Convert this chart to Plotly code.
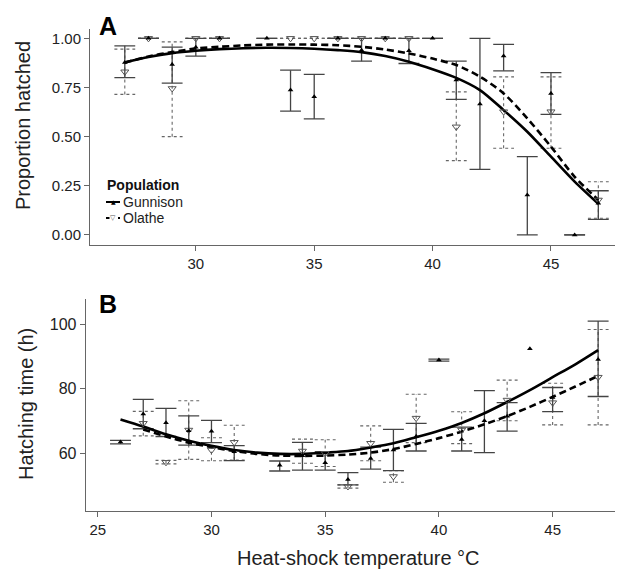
import plotly.graph_objects as go

# ---------------- Panel A: proportion hatched ----------------
a_g_x = [27, 28, 29, 30, 31, 33, 34, 35, 36, 37, 38, 39, 40, 41, 42, 43, 44, 45, 46, 47]
a_g_y = [0.877, 1.0, 0.867, 0.955, 1.0, 1.0, 0.737, 0.703, 1.0, 0.94, 1.0, 0.937, 1.0, 0.788, 0.666, 0.91, 0.203, 0.72, 0.0, 0.161]
a_g_lo = [0.80, 1.0, 0.772, 0.91, 1.0, 1.0, 0.63, 0.59, 1.0, 0.884, 1.0, 0.872, 1.0, 0.69, 0.334, 0.835, 0.0, 0.613, 0.0, 0.079]
a_g_hi = [0.962, 1.0, 0.955, 1.0, 1.0, 1.0, 0.838, 0.817, 1.0, 1.0, 1.0, 1.0, 1.0, 0.884, 1.0, 0.969, 0.398, 0.826, 0.0, 0.225]

a_o_x = [27, 28, 29, 30, 31, 34, 35, 36, 37, 38, 39, 41, 43, 45, 47]
a_o_y = [0.83, 1.0, 0.745, 1.0, 1.0, 1.0, 1.0, 1.0, 1.0, 1.0, 1.0, 0.55, 0.627, 0.627, 0.178]
a_o_lo = [0.715, 1.0, 0.50, 1.0, 1.0, 1.0, 1.0, 1.0, 1.0, 1.0, 1.0, 0.378, 0.441, 0.441, 0.085]
a_o_hi = [0.945, 1.0, 0.982, 1.0, 1.0, 1.0, 1.0, 1.0, 1.0, 1.0, 1.0, 0.728, 0.804, 0.804, 0.271]

a_fit_x = [27, 28, 29, 30, 31, 32, 33, 34, 35, 36, 37, 38, 39, 40, 41, 42, 43, 44, 45, 46, 47]
a_fit_g = [0.877, 0.905, 0.925, 0.937, 0.945, 0.95, 0.952, 0.951, 0.947, 0.94, 0.93, 0.91, 0.881, 0.843, 0.799, 0.737, 0.635, 0.525, 0.398, 0.271, 0.158]
a_fit_o = [0.877, 0.908, 0.93, 0.948, 0.957, 0.964, 0.968, 0.969, 0.968, 0.965, 0.957, 0.943, 0.923, 0.897, 0.864, 0.805, 0.72, 0.593, 0.449, 0.296, 0.178]

# ---------------- Panel B: hatching time ----------------
b_g_x = [26, 27, 28, 29, 30, 31, 33, 34, 35, 36, 37, 38, 39, 40, 41, 42, 43, 44, 45, 47]
b_g_y = [63.5, 72.2, 69.5, 67.0, 66.8, 60.5, 56.3, 59.2, 57.1, 51.9, 58.4, 61.0, 65.2, 88.9, 64.3, 70.1, 71.5, 92.4, 77.3, 89.1]
b_g_lo = [62.9, 67.6, 65.2, 62.5, 63.3, 57.7, 54.5, 54.8, 54.8, 50.2, 55.1, 54.6, 60.7, 88.6, 60.7, 60.2, 66.9, None, 72.9, 77.6]
b_g_hi = [64.0, 76.7, 73.9, 71.6, 70.2, 62.4, 57.6, 63.4, 60.5, 54.0, 61.9, 67.4, 69.3, 89.2, 68.1, 79.4, 75.7, None, 80.4, 101.0]

b_o_x = [27, 28, 29, 30, 31, 34, 35, 36, 37, 38, 39, 41, 43, 45, 47]
b_o_y = [69.3, 57.2, 67.2, 61.0, 63.4, 60.7, 60.0, 49.7, 63.1, 52.8, 70.9, 67.2, 76.5, 75.7, 83.6]
b_o_lo = [65.4, 56.7, 58.1, 57.7, 57.9, 56.9, 55.9, 49.2, 57.7, 51.0, 63.3, 63.0, 70.1, 68.8, 68.8]
b_o_hi = [73.0, 57.8, 76.3, 64.8, 68.7, 64.4, 64.2, 50.2, 68.5, 54.6, 78.3, 72.9, 82.7, 81.7, 98.4]

b_fit_g_x = [26, 27, 28, 29, 30, 31, 32, 33, 34, 35, 36, 37, 38, 39, 40, 41, 42, 43, 44, 45, 46, 47]
b_fit_g = [70.5, 68.3, 65.9, 63.9, 62.3, 61.0, 60.2, 59.8, 59.8, 60.2, 60.7, 61.8, 63.1, 65.0, 67.0, 69.4, 72.4, 75.9, 79.6, 83.6, 87.6, 92.0]
b_fit_o_x = [27, 28, 29, 30, 31, 32, 33, 34, 35, 36, 37, 38, 39, 40, 41, 42, 43, 44, 45, 46, 47]
b_fit_o = [67.4, 65.2, 63.3, 61.9, 60.7, 59.8, 59.3, 59.2, 59.3, 59.6, 60.2, 61.3, 62.9, 64.7, 66.7, 69.0, 71.5, 74.4, 77.5, 80.7, 84.0]

FONT = "Liberation Sans, Arial, sans-serif"
W, H = 623, 569
OFF = 8  # page body margin in the viewer


def fx(px):
    return (px - OFF) / W


def fy(py):
    return 1 - (py - OFF) / H


def err_segments(xs, lo, hi, half):
    ex, ey = [], []
    for x, l, h in zip(xs, lo, hi):
        if l is None or h is None:
            continue
        ex += [x, x, None, x - half, x + half, None, x - half, x + half, None]
        ey += [l, h, None, l, l, None, h, h, None]
    return ex, ey


fig = go.Figure()

panels = [
    ("x", "y", a_g_x, a_g_y, a_g_lo, a_g_hi, a_o_x, a_o_y, a_o_lo, a_o_hi,
     a_fit_x, a_fit_g, a_fit_x, a_fit_o, 0.44),
    ("x2", "y2", b_g_x, b_g_y, b_g_lo, b_g_hi, b_o_x, b_o_y, b_o_lo, b_o_hi,
     b_fit_g_x, b_fit_g, b_fit_o_x, b_fit_o, 0.46),
]

for (xa, ya, gx, gy, glo, ghi, ox, oy, olo, ohi, fgx, fgy, fox, foy, half) in panels:
    ex, ey = err_segments(ox, olo, ohi, half)
    fig.add_trace(go.Scatter(x=ex, y=ey, mode="lines", xaxis=xa, yaxis=ya,
                             line=dict(color="#666666", width=1.1, dash="dot"),
                             showlegend=False, hoverinfo="skip"))
    ex, ey = err_segments(gx, glo, ghi, half)
    fig.add_trace(go.Scatter(x=ex, y=ey, mode="lines", xaxis=xa, yaxis=ya,
                             line=dict(color="#444444", width=1.3),
                             showlegend=False, hoverinfo="skip"))
    fig.add_trace(go.Scatter(x=fgx, y=fgy, mode="lines", xaxis=xa, yaxis=ya,
                             line=dict(color="black", width=2.6, shape="spline", smoothing=0.8),
                             showlegend=False))
    fig.add_trace(go.Scatter(x=fox, y=foy, mode="lines", xaxis=xa, yaxis=ya,
                             line=dict(color="black", width=2.6, dash="7px,4px",
                                       shape="spline", smoothing=0.8),
                             showlegend=False))
    fig.add_trace(go.Scatter(x=ox, y=oy, mode="markers", xaxis=xa, yaxis=ya,
                             marker=dict(symbol="triangle-down-open", size=7,
                                         color="#555555", line=dict(width=1)),
                             showlegend=False))
    fig.add_trace(go.Scatter(x=gx, y=gy, mode="markers", xaxis=xa, yaxis=ya,
                             marker=dict(symbol="triangle-up", size=5, color="black"),
                             showlegend=False))

axis_common = dict(showgrid=False, zeroline=False, showline=True, linecolor="#666666",
                   linewidth=1, ticks="outside", ticklen=5, tickcolor="#666666",
                   automargin=False)

# hand-built legend (keys + labels)
legend_shapes = [
    dict(type="line", xref="paper", yref="paper", x0=fx(106), x1=fx(120), y0=fy(202), y1=fy(202),
         line=dict(color="black", width=2)),
    dict(type="line", xref="paper", yref="paper", x0=fx(106), x1=fx(120), y0=fy(218), y1=fy(218),
         line=dict(color="black", width=2, dash="4px,2px")),
]

ann = [
    dict(text="<b>A</b>", x=fx(108), y=fy(26), xref="paper", yref="paper",
         xanchor="center", yanchor="middle", showarrow=False,
         font=dict(family=FONT, size=25, color="black")),
    dict(text="<b>B</b>", x=fx(108), y=fy(303.5), xref="paper", yref="paper",
         xanchor="center", yanchor="middle", showarrow=False,
         font=dict(family=FONT, size=25, color="black")),
    dict(text="Proportion hatched", x=fx(23), y=fy(126), xref="paper", yref="paper",
         xanchor="center", yanchor="middle", textangle=-90, showarrow=False,
         font=dict(family=FONT, size=20, color="#222222")),
    dict(text="Hatching time (h)", x=fx(26), y=fy(404), xref="paper", yref="paper",
         xanchor="center", yanchor="middle", textangle=-90, showarrow=False,
         font=dict(family=FONT, size=20, color="#222222")),
    dict(text="Heat-shock temperature \u00b0C", x=fx(358), y=fy(558), xref="paper", yref="paper",
         xanchor="center", yanchor="middle", showarrow=False,
         font=dict(family=FONT, size=20, color="#222222")),
    dict(text="<b>Population</b>", x=fx(105), y=fy(185), xref="paper", yref="paper",
         xanchor="left", yanchor="middle", showarrow=False,
         font=dict(family=FONT, size=14, color="#111111")),
    dict(text="Gunnison", x=fx(121), y=fy(202), xref="paper", yref="paper",
         xanchor="left", yanchor="middle", showarrow=False,
         font=dict(family=FONT, size=14, color="#222222")),
    dict(text="Olathe", x=fx(121), y=fy(218), xref="paper", yref="paper",
         xanchor="left", yanchor="middle", showarrow=False,
         font=dict(family=FONT, size=14, color="#222222")),
    dict(text="\u25b2", x=fx(113), y=fy(201), xref="paper", yref="paper",
         xanchor="center", yanchor="middle", showarrow=False,
         font=dict(family="DejaVu Sans", size=6, color="black")),
    dict(text="\u25bd", x=fx(113), y=fy(218), xref="paper", yref="paper",
         xanchor="center", yanchor="middle", showarrow=False, bgcolor="white", borderpad=0,
         font=dict(family="DejaVu Sans", size=7, color="#555555")),
]

fig.update_layout(
    width=W, height=H,
    margin=dict(l=0, r=0, t=0, b=0),
    plot_bgcolor="white", paper_bgcolor="white",
    font=dict(family=FONT, color="#222222"),
    showlegend=False,
    xaxis=dict(domain=[fx(90), fx(622)], range=[25.53, 48.0], anchor="y",
               tickvals=[30, 35, 40, 45],
               tickfont=dict(family=FONT, size=15, color="#222222"), **axis_common),
    yaxis=dict(domain=[fy(245), fy(29.3)], range=[-0.051, 1.046], anchor="x",
               tickvals=[0, 0.25, 0.5, 0.75, 1.0],
               ticktext=["0.00", "0.25", "0.50", "0.75", "1.00"],
               tickfont=dict(family=FONT, size=15, color="#222222"), **axis_common),
    xaxis2=dict(domain=[fx(85.7), fx(622)], range=[24.47, 48.05], anchor="y2",
                tickvals=[25, 30, 35, 40, 45],
                tickfont=dict(family=FONT, size=15, color="#222222"), **axis_common),
    yaxis2=dict(domain=[fy(511), fy(299.3)], range=[42.1, 107.75], anchor="x2",
                tickvals=[60, 80, 100],
                tickfont=dict(family=FONT, size=16, color="#222222"), **axis_common),
    shapes=legend_shapes,
    annotations=ann,
)

fig.write_html("out.html")
